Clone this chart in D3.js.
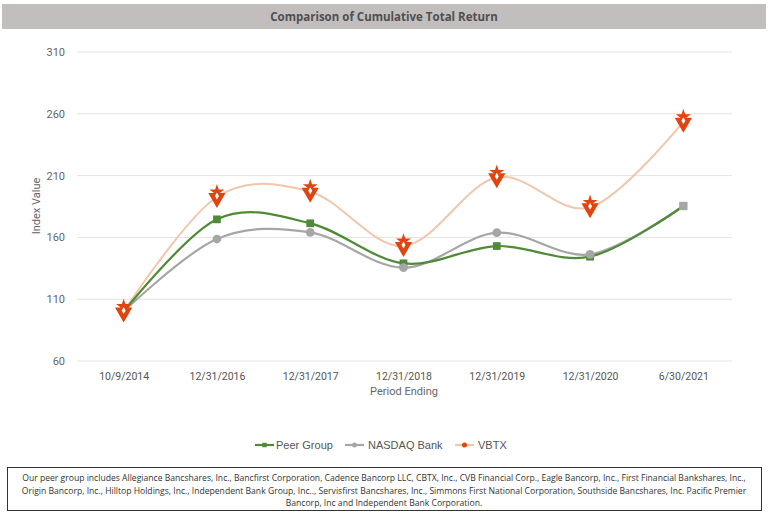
<!DOCTYPE html>
<html>
<head>
<meta charset="utf-8">
<script src="https://cdn.jsdelivr.net/npm/d3@7"></script>
<style>
  body { margin: 0; background: #fff; }
  svg { display: block; }
</style>
</head>
<body>
<div id="viz"></div>
<script>
// chart data
const periods = ["10/9/2014", "12/31/2016", "12/31/2017", "12/31/2018", "12/31/2019", "12/31/2020", "6/30/2021"];
const peerGroup = [100, 174.6, 171.4, 139, 153, 144.4, 185.4];
const nasdaqBank = [100, 158.7, 164.1, 135.5, 163.8, 146.3, 185.4];
const vbtx = [100, 192.7, 197, 153, 208.6, 184.3, 253.6];
const yTicks = [60, 110, 160, 210, 260, 310];
const seriesNames = ["Peer Group", "NASDAQ Bank", "VBTX"];
const footnote = [
    "Our peer group includes Allegiance Bancshares, Inc., Bancfirst Corporation, Cadence Bancorp LLC, CBTX, Inc., CVB Financial Corp., Eagle Bancorp, Inc., First Financial Bankshares, Inc.,",
    "Origin Bancorp, Inc., Hilltop Holdings, Inc., Independent Bank Group, Inc.., Servisfirst Bancshares, Inc., Simmons First National Corporation, Southside Bancshares, Inc. Pacific Premier",
    "Bancorp, Inc and Independent Bank Corporation."
];

const W = 768, H = 513;
const svg = d3.select("#viz").append("svg")
    .attr("width", W)
    .attr("height", H);

// title band
svg.append("rect")
    .attr("x", 2).attr("y", 4)
    .attr("width", 764).attr("height", 25)
    .attr("fill", "#c1bebd");
svg.append("text")
    .attr("x", W / 2).attr("y", 21)
    .attr("text-anchor", "middle")
    .attr("font-family", "Open Sans, sans-serif")
    .attr("font-weight", "bold")
    .attr("font-size", 11.5)
    .attr("fill", "#505050")
    .text("Comparison of Cumulative Total Return");

const x = d3.scalePoint()
    .domain(periods)
    .range([77, 730])
    .padding(0.5);

const y = d3.scaleLinear()
    .domain([60, 310])
    .range([361, 52]);

// gridlines
svg.append("g")
    .selectAll("line")
    .data(yTicks)
    .join("line")
        .attr("x1", 77).attr("x2", 732)
        .attr("y1", d => y(d)).attr("y2", d => y(d))
        .attr("stroke", "#e3e3e3")
        .attr("stroke-width", 1);

// y axis
const yAxis = svg.append("g")
    .attr("transform", "translate(70,0)")
    .call(d3.axisLeft(y).tickValues(yTicks).tickSize(0).tickPadding(5));
yAxis.select(".domain").remove();
yAxis.selectAll("text")
    .attr("font-family", "Roboto, sans-serif")
    .attr("font-size", 11)
    .attr("fill", "#666");

// x axis
const xAxis = svg.append("g")
    .attr("transform", "translate(0,368)")
    .call(d3.axisBottom(x).tickSize(0).tickPadding(5));
xAxis.select(".domain").remove();
xAxis.selectAll("text")
    .attr("font-family", "Roboto, sans-serif")
    .attr("font-size", 10.5)
    .attr("fill", "#555");

svg.append("text")
    .attr("x", 404).attr("y", 395)
    .attr("text-anchor", "middle")
    .attr("font-family", "Roboto, sans-serif")
    .attr("font-size", 11)
    .attr("fill", "#666")
    .text("Period Ending");

svg.append("text")
    .attr("transform", "translate(40,206) rotate(-90)")
    .attr("text-anchor", "middle")
    .attr("font-family", "Roboto, sans-serif")
    .attr("font-size", 11)
    .attr("fill", "#666")
    .text("Index Value");

const line = d3.line()
    .x((d, i) => x(periods[i]))
    .y(d => y(d))
    .curve(d3.curveCardinal.tension(0));

const colors = {peer: "#4f8a36", nasdaq: "#a6a6a6", vbtxLine: "#f2c6aa", vbtxMark: "#e2440f"};

// lines, VBTX drawn first so the others sit on top
svg.append("path")
    .attr("d", line(vbtx))
    .attr("fill", "none")
    .attr("stroke", colors.vbtxLine)
    .attr("stroke-width", 2);
svg.append("path")
    .attr("d", line(nasdaqBank))
    .attr("fill", "none")
    .attr("stroke", colors.nasdaq)
    .attr("stroke-width", 2.2);
svg.append("path")
    .attr("d", line(peerGroup))
    .attr("fill", "none")
    .attr("stroke", colors.peer)
    .attr("stroke-width", 2.2);

// markers
svg.append("g")
    .selectAll("path")
    .data(peerGroup.slice(0, 6))
    .join("path")
        .attr("transform", (d, i) => `translate(${x(periods[i])},${y(d)})`)
        .attr("d", d3.symbol(d3.symbolSquare, 60))
        .attr("fill", colors.peer);

svg.append("g")
    .selectAll("path")
    .data(nasdaqBank)
    .join("path")
        .attr("transform", (d, i) => `translate(${x(periods[i])},${y(d)})`)
        .attr("d", (d, i) => i == 6 ? d3.symbol(d3.symbolSquare, 70)() : d3.symbol(d3.symbolCircle, 60)())
        .attr("fill", colors.nasdaq);

function vbtxMarker(g) {
    g.append("path")
        .attr("transform", "translate(0,-5)")
        .attr("d", d3.symbol(d3.symbolStar, 70))
        .attr("fill", colors.vbtxMark);
    g.append("path")
        .attr("transform", "translate(0,1) rotate(180)")
        .attr("d", d3.symbol(d3.symbolTriangle, 130))
        .attr("fill", colors.vbtxMark);
    g.append("path")
        .attr("transform", "translate(0,-1)")
        .attr("d", d3.symbol(d3.symbolDiamond, 14))
        .attr("fill", "#fff");
}

svg.append("g")
    .selectAll("g")
    .data(vbtx)
    .join("g")
        .attr("transform", (d, i) => `translate(${x(periods[i])},${y(d)})`)
        .each(function() { vbtxMarker(d3.select(this)); });

// legend
const legendItems = [
    {name: seriesNames[0], x: 255, tx: 276, color: colors.peer, shape: d3.symbolSquare},
    {name: seriesNames[1], x: 345, tx: 368, color: colors.nasdaq, shape: d3.symbolCircle},
    {name: seriesNames[2], x: 455, tx: 478, color: colors.vbtxLine, mark: colors.vbtxMark, shape: d3.symbolCircle}
];
const legend = svg.append("g").attr("transform", "translate(0,445)");
legendItems.forEach(function(it) {
    legend.append("line")
        .attr("x1", it.x).attr("x2", it.x + 19)
        .attr("stroke", it.color)
        .attr("stroke-width", 2.2);
    legend.append("path")
        .attr("transform", `translate(${it.x + 9.5},0)`)
        .attr("d", d3.symbol(it.shape, 20))
        .attr("fill", it.mark || it.color);
    legend.append("text")
        .attr("x", it.tx).attr("y", 4)
        .attr("font-family", "Liberation Sans, Arial, sans-serif")
        .attr("font-size", 11)
        .attr("fill", "#555")
        .text(it.name);
});

// footnote box
svg.append("rect")
    .attr("x", 7.5).attr("y", 467.5)
    .attr("width", 754).attr("height", 43)
    .attr("fill", "none")
    .attr("stroke", "#333")
    .attr("stroke-width", 1);
svg.append("g")
    .selectAll("text")
    .data(footnote)
    .join("text")
        .attr("x", W / 2)
        .attr("y", (d, i) => 481 + i * 12.5)
        .attr("text-anchor", "middle")
        .attr("font-family", "Open Sans, sans-serif")
        .attr("font-size", 8.6)
        .attr("fill", "#333")
        .text(d => d);
</script>
</body>
</html>
